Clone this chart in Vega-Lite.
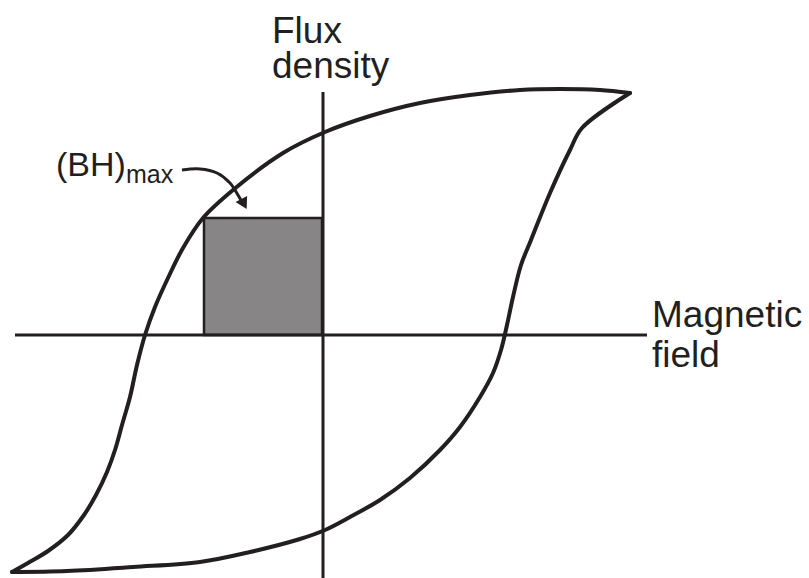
{
  "$schema": "https://vega.github.io/schema/vega-lite/v6.json",
  "width": 809,
  "height": 578,
  "autosize": {"type": "none"},
  "padding": 0,
  "background": "white",
  "view": {"stroke": null},
  "config": {"font": "Liberation Sans"},
  "datasets": {
    "loop": [
      {"branch": "upper", "i": 0, "H": 307, "B": 242},
      {"branch": "upper", "i": 1, "H": 277, "B": 245},
      {"branch": "upper", "i": 2, "H": 237, "B": 246},
      {"branch": "upper", "i": 3, "H": 197, "B": 245},
      {"branch": "upper", "i": 4, "H": 147, "B": 240},
      {"branch": "upper", "i": 5, "H": 97, "B": 232},
      {"branch": "upper", "i": 6, "H": 47, "B": 219},
      {"branch": "upper", "i": 7, "H": 2, "B": 203},
      {"branch": "upper", "i": 8, "H": -40, "B": 182},
      {"branch": "upper", "i": 9, "H": -90, "B": 145},
      {"branch": "upper", "i": 10, "H": -120, "B": 117},
      {"branch": "upper", "i": 11, "H": -140, "B": 87},
      {"branch": "upper", "i": 12, "H": -155, "B": 57},
      {"branch": "upper", "i": 13, "H": -168, "B": 28},
      {"branch": "upper", "i": 14, "H": -178, "B": 0},
      {"branch": "upper", "i": 15, "H": -186, "B": -30},
      {"branch": "upper", "i": 16, "H": -193, "B": -62},
      {"branch": "upper", "i": 17, "H": -201, "B": -90},
      {"branch": "upper", "i": 18, "H": -208, "B": -115},
      {"branch": "upper", "i": 19, "H": -216, "B": -137},
      {"branch": "upper", "i": 20, "H": -227, "B": -160},
      {"branch": "upper", "i": 21, "H": -239, "B": -180},
      {"branch": "upper", "i": 22, "H": -255, "B": -200},
      {"branch": "upper", "i": 23, "H": -275, "B": -216},
      {"branch": "upper", "i": 24, "H": -295, "B": -228},
      {"branch": "upper", "i": 25, "H": -311, "B": -237},
      {"branch": "lower", "i": 0, "H": -311, "B": -237},
      {"branch": "lower", "i": 1, "H": -256, "B": -236},
      {"branch": "lower", "i": 2, "H": -190, "B": -232},
      {"branch": "lower", "i": 3, "H": -123, "B": -227},
      {"branch": "lower", "i": 4, "H": -73, "B": -217},
      {"branch": "lower", "i": 5, "H": -23, "B": -204},
      {"branch": "lower", "i": 6, "H": 2, "B": -195},
      {"branch": "lower", "i": 7, "H": 27, "B": -182},
      {"branch": "lower", "i": 8, "H": 57, "B": -165},
      {"branch": "lower", "i": 9, "H": 87, "B": -143},
      {"branch": "lower", "i": 10, "H": 117, "B": -115},
      {"branch": "lower", "i": 11, "H": 137, "B": -92},
      {"branch": "lower", "i": 12, "H": 157, "B": -62},
      {"branch": "lower", "i": 13, "H": 170, "B": -38},
      {"branch": "lower", "i": 14, "H": 178, "B": -15},
      {"branch": "lower", "i": 15, "H": 184, "B": 10},
      {"branch": "lower", "i": 16, "H": 190, "B": 38},
      {"branch": "lower", "i": 17, "H": 198, "B": 70},
      {"branch": "lower", "i": 18, "H": 208, "B": 95},
      {"branch": "lower", "i": 19, "H": 227, "B": 142},
      {"branch": "lower", "i": 20, "H": 247, "B": 185},
      {"branch": "lower", "i": 21, "H": 259, "B": 207},
      {"branch": "lower", "i": 22, "H": 307, "B": 242}
    ],
    "axes": [
      {"name": "H", "H": -308, "H2": 324, "B": 0, "B2": 0},
      {"name": "B", "H": 0, "H2": 0, "B": 243, "B2": -243}
    ],
    "box": [{"H": -119, "H2": -1, "B": 0, "B2": 117}],
    "arrow": [
      {"i": 0, "H": -141, "B": 165},
      {"i": 1, "H": -123, "B": 166},
      {"i": 2, "H": -106, "B": 162},
      {"i": 3, "H": -93, "B": 152},
      {"i": 4, "H": -85, "B": 140},
      {"i": 5, "H": -80, "B": 131}
    ],
    "head": [{"H": -79, "B": 131}],
    "labels": [
      {"text": "Flux", "H": -51, "B": 292},
      {"text": "density", "H": -51, "B": 257},
      {"text": "Magnetic", "H": 329, "B": 8},
      {"text": "field", "H": 329, "B": -32}
    ],
    "bh": [{"text": "(BH)", "H": -267, "B": 159}],
    "sub": [{"text": "max", "H": -197, "B": 152}]
  },
  "layer": [
    {
      "data": {"name": "box"},
      "mark": {"type": "rect", "fill": "#878586", "stroke": "#231f20", "strokeWidth": 2.5},
      "encoding": {
        "x": {"field": "H", "type": "quantitative", "scale": {"domain": [-323, 486], "nice": false, "zero": false}, "axis": null},
        "x2": {"field": "H2"},
        "y": {"field": "B", "type": "quantitative", "scale": {"domain": [-243, 335], "nice": false, "zero": false}, "axis": null},
        "y2": {"field": "B2"}
      }
    },
    {
      "data": {"name": "axes"},
      "mark": {"type": "rule", "stroke": "#231f20", "strokeWidth": 3},
      "encoding": {
        "x": {"field": "H", "type": "quantitative"},
        "x2": {"field": "H2"},
        "y": {"field": "B", "type": "quantitative"},
        "y2": {"field": "B2"}
      }
    },
    {
      "data": {"name": "loop"},
      "mark": {"type": "line", "stroke": "#231f20", "strokeWidth": 4, "interpolate": "catmull-rom", "strokeJoin": "round", "strokeCap": "round", "clip": false},
      "encoding": {
        "x": {"field": "H", "type": "quantitative"},
        "y": {"field": "B", "type": "quantitative"},
        "detail": {"field": "branch"},
        "order": {"field": "i", "type": "quantitative"}
      }
    },
    {
      "data": {"name": "arrow"},
      "mark": {"type": "line", "stroke": "#231f20", "strokeWidth": 3, "interpolate": "catmull-rom"},
      "encoding": {
        "x": {"field": "H", "type": "quantitative"},
        "y": {"field": "B", "type": "quantitative"},
        "order": {"field": "i", "type": "quantitative"}
      }
    },
    {
      "data": {"name": "head"},
      "mark": {"type": "point", "shape": "triangle-up", "filled": true, "fill": "#231f20", "size": 170, "angle": 152, "opacity": 1},
      "encoding": {
        "x": {"field": "H", "type": "quantitative"},
        "y": {"field": "B", "type": "quantitative"}
      }
    },
    {
      "data": {"name": "labels"},
      "mark": {"type": "text", "fontSize": 37, "align": "left", "baseline": "alphabetic", "color": "#231f20"},
      "encoding": {
        "x": {"field": "H", "type": "quantitative"},
        "y": {"field": "B", "type": "quantitative"},
        "text": {"field": "text"}
      }
    },
    {
      "data": {"name": "bh"},
      "mark": {"type": "text", "fontSize": 34, "align": "left", "baseline": "alphabetic", "color": "#231f20"},
      "encoding": {
        "x": {"field": "H", "type": "quantitative"},
        "y": {"field": "B", "type": "quantitative"},
        "text": {"field": "text"}
      }
    },
    {
      "data": {"name": "sub"},
      "mark": {"type": "text", "fontSize": 25, "align": "left", "baseline": "alphabetic", "color": "#231f20"},
      "encoding": {
        "x": {"field": "H", "type": "quantitative"},
        "y": {"field": "B", "type": "quantitative"},
        "text": {"field": "text"}
      }
    }
  ]
}
